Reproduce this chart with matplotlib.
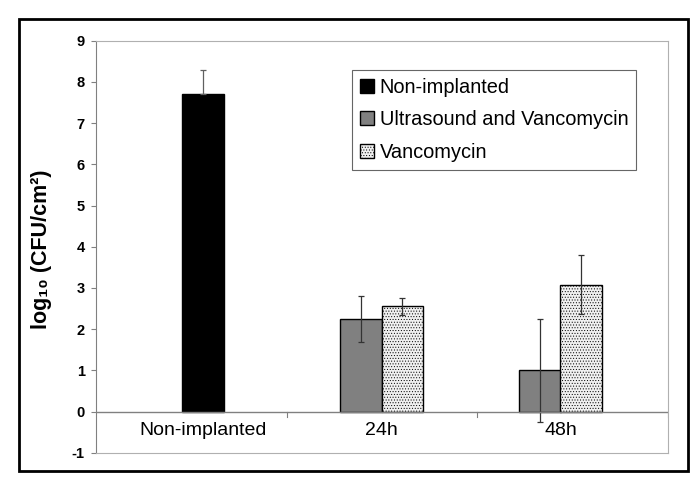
import numpy as np
import matplotlib
matplotlib.use('Agg')
import matplotlib.pyplot as plt
from matplotlib.patches import Rectangle

plt.rcParams['font.family'] = ['Liberation Sans', 'DejaVu Sans']
plt.rcParams['hatch.color'] = '#c8c8c8'
plt.rcParams['hatch.linewidth'] = 0.4

categories = ['Non-implanted', '24h', '48h']
series = ['Non-implanted', 'Ultrasound and Vancomycin', 'Vancomycin']

# bar value and error, per group
nonimp_val = [7.70]
nonimp_err = [0.58]
usv_val = [2.24, 1.00]
usv_err = [0.56, 1.25]
vanc_val = [2.55, 3.08]
vanc_err = [0.21, 0.71]


def main():
    fig = plt.figure(figsize=(6.99, 4.87), dpi=100)
    ax = fig.add_axes([0.1373, 0.0704, 0.8187, 0.846])

    w = 0.218
    # bar centres in category units (axis spans 0..3)
    x_non = np.array([0.56])
    x_usv = np.array([1.389, 2.327])
    x_van = np.array([1.606, 2.544])

    ekw = dict(elinewidth=0.9, capsize=2.5, capthick=0.9, ecolor='#333333')
    # only the upper whisker shows above the black bar
    ax.bar(x_non, nonimp_val, w, yerr=[np.zeros(1), nonimp_err], color='black',
           edgecolor='black', linewidth=1, label=series[0],
           error_kw=dict(ekw, ecolor='#606060'))
    ax.bar(x_usv, usv_val, w, yerr=usv_err, color='#808080',
           edgecolor='black', linewidth=1, label=series[1], error_kw=ekw)
    ax.bar(x_van, vanc_val, w, yerr=vanc_err, color='#f0f0f0', hatch='......',
           edgecolor='black', linewidth=1, label=series[2], error_kw=ekw)

    ax.set_xlim(0, 3)
    ax.set_ylim(-1, 9)
    ax.set_yticks(range(-1, 10))
    ax.set_yticklabels([str(v) for v in range(-1, 10)], fontweight='bold', fontsize=10.5)

    ax.spines['left'].set_color('#808080')
    for s in ['top', 'right', 'bottom']:
        ax.spines[s].set_color('#b0b0b0')
        ax.spines[s].set_linewidth(0.8)
    ax.tick_params(axis='y', length=3.5, color='#808080', pad=4.5)
    ax.tick_params(axis='x', length=0)

    # zero line with category separators
    ax.axhline(0, color='#808080', linewidth=1)
    ax.set_xticks([])
    for xt in [1, 2, 3]:
        ax.plot([xt, xt], [0, -0.13], color='#808080', linewidth=0.8)
    # labels sit under the middle of each bar group
    label_x = [x_non.mean(), (x_usv[0] + x_van[0]) / 2, (x_usv[1] + x_van[1]) / 2]
    for lx, c in zip(label_x, categories):
        ax.text(lx, -0.46, c, ha='center', va='center', fontsize=14)

    fig.text(42 / 699, 1 - 249 / 487, 'log\u2081\u2080 (CFU/cm\u00b2)', rotation=90,
             ha='center', va='center', fontweight='bold', fontsize=15.5)

    leg = ax.legend(loc='upper left', bbox_to_anchor=(0.447, 0.929), fontsize=14.4,
                    frameon=True, fancybox=False, edgecolor='#404040',
                    handlelength=0.7, handleheight=0.7, handletextpad=0.3,
                    labelspacing=0.67, borderpad=0.4, borderaxespad=0)
    leg.get_frame().set_linewidth(0.8)

    # outer frame
    fig.patches.append(Rectangle((19 / 699, 1 - 471 / 487), 669 / 699, 452 / 487,
                                 transform=fig.transFigure, fill=False,
                                 edgecolor='black', linewidth=2))

    fig.savefig('out.png', dpi=100)


if __name__ == '__main__':
    main()
